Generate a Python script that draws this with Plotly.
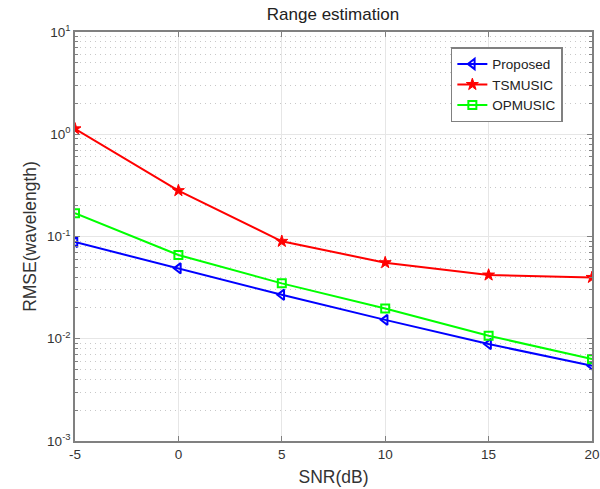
import plotly.graph_objects as go

snr = [-5, 0, 5, 10, 15, 20]
proposed = [0.0883, 0.0488, 0.0269, 0.0153, 0.00887, 0.00544]
tsmusic = [1.13, 0.281, 0.0897, 0.0555, 0.042, 0.0398]
opmusic = [0.169, 0.0659, 0.0348, 0.0198, 0.0107, 0.00632]

x_ticks = [-5, 0, 5, 10, 15, 20]
x_ticktext = ["-5", "0", "5", "10", "15", "20"]
y_ticks = [1e-3, 1e-2, 1e-1, 1e0, 1e1]
y_ticktext = ["10<sup>-3</sup>", "10<sup>-2</sup>", "10<sup>-1</sup>", "10<sup>0</sup>", "10<sup>1</sup>"]
y_minor = [m * 10 ** e for e in range(-3, 1) for m in range(2, 10)]

font = "Liberation Sans, Arial, sans-serif"

fig = go.Figure()
fig.add_trace(go.Scatter(x=snr, y=proposed, name="Proposed", mode="lines+markers",
                         line=dict(color="#0000ff", width=2),
                         marker=dict(symbol="triangle-left-open", size=9, color="#0000ff",
                                     line=dict(width=2, color="#0000ff"))))
fig.add_trace(go.Scatter(x=snr, y=tsmusic, name="TSMUSIC", mode="lines+markers",
                         line=dict(color="#ff0000", width=2),
                         marker=dict(symbol="star", size=9, color="#ff0000",
                                     line=dict(width=1, color="#ff0000"))))
fig.add_trace(go.Scatter(x=snr, y=opmusic, name="OPMUSIC", mode="lines+markers",
                         line=dict(color="#00ff00", width=2),
                         marker=dict(symbol="square-open", size=8, color="#00ff00",
                                     line=dict(width=2, color="#00ff00"))))

axis_common = dict(showline=True, linecolor="#808080", linewidth=1.5, mirror="ticks",
                   ticks="inside", ticklen=5, tickcolor="#808080",
                   tickfont=dict(family=font, size=13.5, color="#333333"),
                   zeroline=False, automargin=False)

fig.update_xaxes(range=[-5, 20], tickvals=x_ticks, ticktext=x_ticktext,
                 showgrid=True, gridcolor="#e6e6e6", gridwidth=1,
                 title=dict(text="SNR(dB)", font=dict(family=font, size=17.5, color="#333333"),
                            standoff=10),
                 **axis_common)
fig.update_yaxes(type="log", range=[-3, 1], tickvals=y_ticks, ticktext=y_ticktext,
                 showgrid=True, gridcolor="#e6e6e6", gridwidth=1,
                 minor=dict(tickvals=y_minor, ticks="inside", ticklen=3, tickcolor="#808080",
                            showgrid=True, gridcolor="#c8c8c8", griddash="1px,4px", gridwidth=1),
                 title=dict(text="RMSE(wavelength)", font=dict(family=font, size=17.5, color="#333333"),
                            standoff=6),
                 **axis_common)

fig.update_layout(
    width=600, height=489,
    margin=dict(l=75, r=8, t=32, b=48),
    plot_bgcolor="white", paper_bgcolor="white",
    title=dict(text="Range estimation", x=0.555, xanchor="center", y=0.971, yanchor="middle",
               font=dict(family=font, size=17, color="#222222")),
    legend=dict(x=0.727, y=0.963, xanchor="left", yanchor="top",
                bgcolor="white", bordercolor="#808080", borderwidth=1.5,
                font=dict(family=font, size=13.5, color="#222222"),
                tracegroupgap=0, itemsizing="trace"),
    showlegend=True,
)

# remove the default 8px page margin so the 600x489 figure fills the window exactly
fig.write_html("out.html", config={"displayModeBar": False},
               post_script="document.body.style.margin='0';document.body.style.overflow='hidden';")
